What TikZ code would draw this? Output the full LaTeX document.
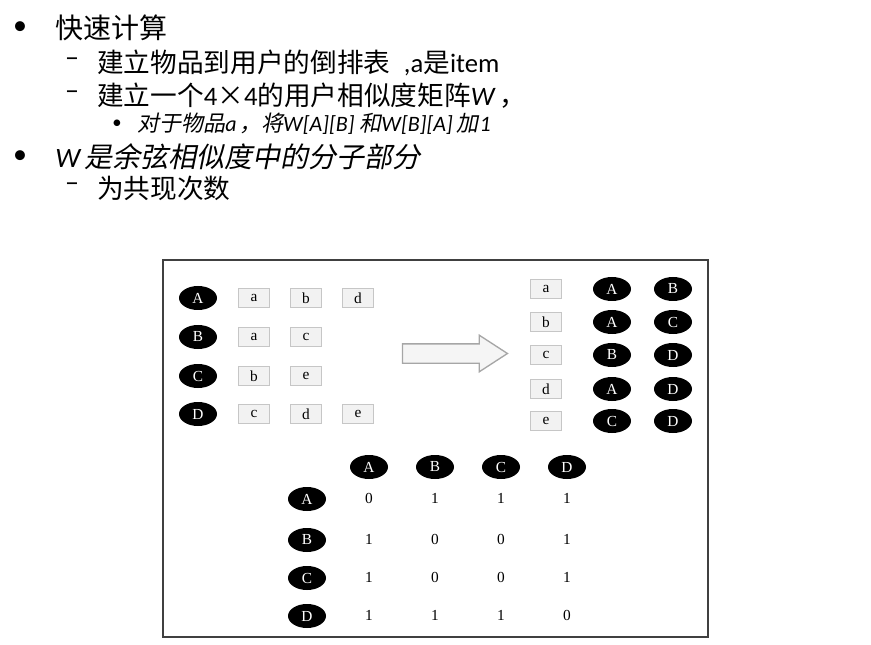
\documentclass[tikz,border=0pt]{standalone}
\usepackage{fontspec}
\setmainfont{Liberation Serif}
\newfontfamily\cjk{Noto Sans CJK SC}
\newfontfamily\cjkit[FakeSlant=0.2]{Noto Sans CJK SC}
\newfontfamily\latin{Carlito}
\usetikzlibrary{shapes.geometric,shapes.arrows}

\newcommand\headRow{467}
\newcommand\matCol{369}
\newcommand\matSep{66}

\tikzset{
  user/.style={ellipse, fill=black, text=white, inner sep=0pt,
    minimum width=28.5pt, minimum height=18pt, font=\fontsize{11.5}{11.5}\selectfont},
  itembox/.style={draw=gray!45, fill=gray!10, line width=1.1pt, inner sep=0pt,
    minimum width=23pt, minimum height=14pt, font=\fontsize{11.5}{11.5}\selectfont},
  cell/.style={inner sep=0pt, font=\fontsize{11.5}{11.5}\selectfont},
  line/.style={anchor=west, inner sep=0pt},
  mark1/.style={inner sep=0pt, font=\latin\fontsize{21}{21}\selectfont},
  mark2/.style={inner sep=0pt, text height=0.36em, text depth=0pt,
    font=\latin\fontsize{21}{21}\selectfont},
}

\begin{document}
\begin{tikzpicture}[x=0.75pt, y=-0.75pt]
  \useasboundingbox (0,0) rectangle (871,645);

  % bullet text
  \node[mark1] (b1) at (20,28) {•};
  \node[line, font=\fontsize{21}{21}\selectfont] (t1) at (55,28) {\cjk 快速计算};
  \node[mark2] (b2) at (72,64) {–};
  \node[line, font=\fontsize{20}{20}\selectfont] (t2) at (97,63)
    {{\cjk 建立物品到用户的倒排表}\ \ {\latin ,a}{\cjk 是}{\latin item}};
  \node[mark2] (b3) at (72,97) {–};
  \node[line, font=\fontsize{20}{20}\selectfont] (t3) at (97,96)
    {{\cjk 建立一个}{\latin 4}{\cjk ×}{\latin 4}{\cjk 的用户相似度矩阵}{\latin\itshape W\,}{\cjk ，}};
  \node[mark1, font=\latin\fontsize{14}{14}\selectfont] (b4) at (117,124) {•};
  \node[line, font=\fontsize{16.5}{16.5}\selectfont] (t4) at (137,124)
    {{\cjkit 对于物品}{\latin\itshape a\hspace{2pt}}{\cjkit ，将}{\latin\itshape W[A][B]\ }{\cjkit 和}{\latin\itshape W[B][A]\,}{\cjkit 加}\hspace{1pt}{\latin\itshape 1}};
  \node[mark1] (b5) at (20,157) {•};
  \node[line, font=\fontsize{21}{21}\selectfont] (t5) at (55,157)
    {{\latin\itshape W}\,{\cjkit 是余弦相似度中的分子部分}};
  \node[mark2] (b6) at (72,189) {–};
  \node[line, font=\fontsize{20}{20}\selectfont] (t6) at (97,188) {\cjk 为共现次数};

  % frame
  \draw[gray!50!black, line width=1pt] (163,260) rectangle (708,637);

  % user -> items
  \foreach \u/\y/\lst in {A/298/{a,b,d}, B/337/{a,c}, C/376/{b,e}, D/414/{c,d,e}} {
    \node[user] (L-\u) at (198,\y) {\u};
    \foreach \itm [count=\i] in \lst
      \node[itembox] (L-\u-\i) at (202+52*\i,\y) {\itm};
  }

  % block arrow
  \node[single arrow, draw=gray!70, fill=gray!8, line width=1pt,
    inner xsep=0pt, inner ysep=6.75pt, minimum height=78.75pt,
    single arrow head extend=6.5pt, single arrow tip angle=66] (conv) at (447.5,353.5) {};

  % item -> users
  \foreach \itm/\y/\p/\q in {a/289/A/B, b/322/A/C, c/355/B/D, d/389/A/D, e/421/C/D} {
    \node[itembox] (R-\itm) at (546,\y) {\itm};
    \node[user] (R-\itm-1) at (612,\y) {\p};
    \node[user] (R-\itm-2) at (673,\y) {\q};
  }

  % matrix W
  \foreach \u [count=\i] in {A,B,C,D}
    \node[user] (H-\u) at (\matCol+\matSep*\i-\matSep,\headRow) {\u};
  \foreach \u/\y/\vals in {A/499/{0,1,1,1}, B/540/{1,0,0,1}, C/578/{1,0,0,1}, D/616/{1,1,1,0}} {
    \node[user] (M-\u) at (307,\y) {\u};
    \foreach \v [count=\j] in \vals
      \node[cell] (W-\u-\j) at (\matCol+\matSep*\j-\matSep,\y-1) {\v};
  }
\end{tikzpicture}
\end{document}
